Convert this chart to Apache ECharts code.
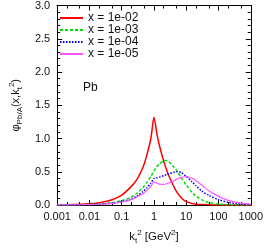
<!DOCTYPE html>
<html><head><meta charset="utf-8">
<script src="https://cdn.jsdelivr.net/npm/echarts@6/dist/echarts.min.js"></script>
<style>html,body{margin:0;padding:0;background:#fff}#c{width:266px;height:250px}</style>
</head><body><div id="c"></div>
<script>
const kt2 = [0.001,0.002,0.005,0.01,0.02,0.05,0.1,0.2,0.3,0.45,0.6,0.8,1,1.25,1.5,2,2.5,3,4,5,7,10,15,20,30,50,100,200,500,1000];
const phi_x1e2 = [0.003,0.005,0.011,0.02,0.035,0.08,0.15,0.28,0.39,0.56,0.75,1.0,1.32,1.05,0.88,0.66,0.52,0.42,0.29,0.2,0.11,0.05,0.022,0.012,0.006,0.003,0.001,0.0005,0.0002,0.0001];
const phi_x1e3 = [0.001,0.002,0.005,0.009,0.016,0.035,0.065,0.12,0.18,0.26,0.34,0.43,0.51,0.58,0.62,0.665,0.67,0.645,0.58,0.52,0.41,0.30,0.19,0.135,0.08,0.038,0.012,0.004,0.001,0.0005];
const phi_x1e4 = [0.001,0.002,0.004,0.007,0.013,0.028,0.05,0.09,0.14,0.2,0.26,0.33,0.40,0.41,0.42,0.44,0.46,0.47,0.49,0.50,0.49,0.43,0.35,0.29,0.21,0.145,0.08,0.04,0.014,0.006];
const phi_x1e5 = [0.001,0.002,0.004,0.006,0.011,0.024,0.045,0.08,0.12,0.17,0.22,0.28,0.345,0.325,0.315,0.31,0.32,0.335,0.36,0.385,0.415,0.425,0.405,0.37,0.30,0.215,0.13,0.07,0.028,0.013];
const seriesNames = ['x = 1e-02','x = 1e-03','x = 1e-04','x = 1e-05'];
const xMajorTicks = [0.001,0.01,0.1,1,10,100,1000];
const xTickLabels = ['0.001','0.01','0.1','1','10','100','1000'];
const xMinorTicks = [0.002,0.005,0.02,0.05,0.2,0.5,2,5,20,50,200,500];

const FONT = 'Liberation Sans';
const TXT = '#111';
const chart = echarts.init(document.getElementById('c'), null, {renderer:'canvas'});
function pairs(ys){ return kt2.map((x,i)=>[x, ys[i]]); }
function labelFor(v){
  let best = 0, bd = Infinity;
  xMajorTicks.forEach((t,i)=>{ const d = Math.abs(Math.log10(v)-Math.log10(t)); if(d<bd){bd=d;best=i;} });
  return xTickLabels[best];
}
const xBase = {type:'log', logBase:10, min:0.001, max:1000, gridIndex:0,
  splitLine:{show:false}, axisLine:{show:true, lineStyle:{color:'#000', width:1}}};
const xAxes = [
  Object.assign({}, xBase, {position:'bottom',
    axisTick:{show:true, inside:true, length:5, lineStyle:{color:'#000'}, customValues:xMajorTicks},
    axisLabel:{show:true, customValues:xMajorTicks, formatter:labelFor, fontFamily:FONT, fontSize:11, color:TXT, margin:6},
    name:'{n|k}{s|t}{p|2}{n| [GeV}{p|2}{n|]}', nameLocation:'middle', nameGap:24,
    nameTextStyle:{fontFamily:FONT, color:TXT, rich:{
      n:{fontFamily:FONT, fontSize:11.5, color:TXT, lineHeight:16, verticalAlign:'middle'},
      s:{fontFamily:FONT, fontSize:8, color:TXT, lineHeight:16, verticalAlign:'bottom'},
      p:{fontFamily:FONT, fontSize:8, color:TXT, lineHeight:16, verticalAlign:'top'}}}}),
  Object.assign({}, xBase, {position:'bottom',
    axisTick:{show:true, inside:true, length:3, lineStyle:{color:'#000'}, customValues:xMinorTicks},
    axisLabel:{show:false}}),
  Object.assign({}, xBase, {position:'top',
    axisTick:{show:true, inside:true, length:5, lineStyle:{color:'#000'}, customValues:xMajorTicks},
    axisLabel:{show:false}}),
  Object.assign({}, xBase, {position:'top',
    axisTick:{show:true, inside:true, length:3, lineStyle:{color:'#000'}, customValues:xMinorTicks},
    axisLabel:{show:false}})
];
const yBase = {type:'value', min:0, max:3, interval:0.5, splitLine:{show:false},
  axisLine:{show:true, lineStyle:{color:'#000', width:1}},
  axisTick:{show:true, inside:true, length:5, lineStyle:{color:'#000'}},
  minorTick:{show:true, splitNumber:5, length:3, lineStyle:{color:'#000'}}};
const yAxes = [
  Object.assign({}, yBase, {position:'left',
    axisLabel:{show:true, formatter:v=>v.toFixed(1), fontFamily:FONT, fontSize:11, color:TXT, margin:7},
    name:'{n|\u03c6}{s|Pb/A}{n|(x,k}{s|t}{p|2}{n|)}', nameLocation:'middle', nameGap:31, nameRotate:90,
    nameTextStyle:{fontFamily:FONT, color:TXT, rich:{
      n:{fontFamily:FONT, fontSize:11, color:TXT, lineHeight:16, verticalAlign:'middle'},
      s:{fontFamily:FONT, fontSize:8, color:TXT, lineHeight:16, verticalAlign:'bottom'},
      p:{fontFamily:FONT, fontSize:8, color:TXT, lineHeight:16, verticalAlign:'top'}}}}),
  Object.assign({}, yBase, {position:'right', axisLabel:{show:false}})
];
const styles = [
  {color:'#ff0000', width:1.5, type:'solid'},
  {color:'#00dd00', width:1.5, type:[3,2]},
  {color:'#0000ff', width:1.5, type:[1.5,1.5]},
  {color:'#ff55ff', width:1.2, type:'solid'}
];
const datas = [phi_x1e2, phi_x1e3, phi_x1e4, phi_x1e5];
const series = datas.map((d,i)=>({
  name:seriesNames[i], type:'line', xAxisIndex:0, yAxisIndex:0,
  data:pairs(d), showSymbol:false, symbol:'none', smooth:0.25,
  lineStyle:styles[i], itemStyle:{color:styles[i].color}, z:2+i
}));
chart.setOption({
  animation:false,
  grid:{left:40, right:15, top:5, bottom:36, containLabel:false},
  xAxis:xAxes, yAxis:yAxes,
  legend:{show:true, orient:'vertical', left:54, top:7, itemGap:0, itemWidth:23, itemHeight:11,
    data:seriesNames, itemStyle:{opacity:0},
    textStyle:{fontFamily:FONT, fontSize:12, color:TXT, lineHeight:11}},
  graphic:[{type:'text', left:83, top:82, style:{text:'Pb', fontFamily:FONT, fontSize:12, fill:TXT}}],
  series:series
});
</script></body></html>
